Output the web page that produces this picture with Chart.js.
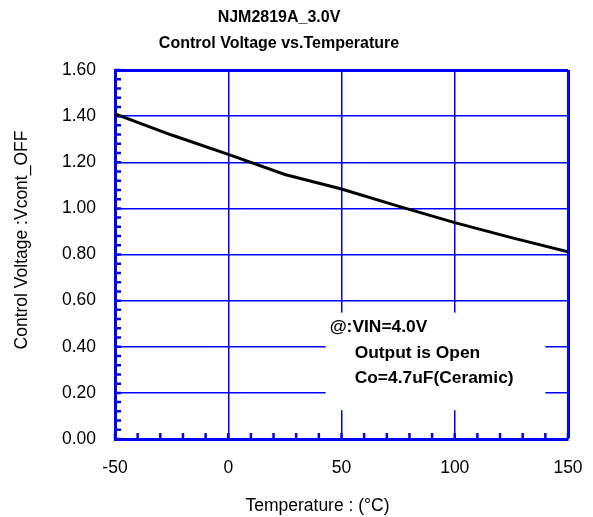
<!DOCTYPE html>
<html><head><meta charset="utf-8">
<script src="https://cdn.jsdelivr.net/npm/chart.js@4"></script>
<style>html,body{margin:0;padding:0;background:#fff}</style>
</head><body>
<canvas id="c" width="593" height="517"></canvas>
<script>
const temperatures = [-50, -25, 0, 25, 50, 75, 100, 125, 150];
const vcontOff = [1.41, 1.318, 1.234, 1.147, 1.084, 1.01, 0.938, 0.873, 0.812];
const xTicks = [-50, 0, 50, 100, 150];
const yTicks = [0, 0.2, 0.4, 0.6, 0.8, 1.0, 1.2, 1.4, 1.6];
const xMinorStep = 10;
const yMinorStep = 0.04;
const titleLines = ['NJM2819A_3.0V', 'Control Voltage vs.Temperature'];
const xTitle = 'Temperature : (°C)';
const yTitle = 'Control Voltage :Vcont_OFF';
const noteLines = ['@:VIN=4.0V', 'Output is Open', 'Co=4.7uF(Ceramic)'];
const noteBox = {x0: 43, x1: 140, y0: 0.125, y1: 0.548};

const BLUE = '#0000FF';
const FONT = '"Liberation Sans", Arial, sans-serif';

const extras = {
  id: 'extras',
  beforeDatasetsDraw(chart) {
    const {ctx, scales: {x, y}} = chart;
    ctx.save();
    const bx0 = x.getPixelForValue(noteBox.x0), bx1 = x.getPixelForValue(noteBox.x1);
    const by0 = y.getPixelForValue(noteBox.y1), by1 = y.getPixelForValue(noteBox.y0);
    ctx.fillStyle = '#fff';
    ctx.fillRect(bx0, by0, bx1 - bx0, by1 - by0);
    ctx.strokeStyle = BLUE;
    ctx.lineWidth = 2.5;
    ctx.beginPath();
    for (let i = 0; i <= Math.round((y.max - y.min) / yMinorStep); i++) {
      const py = y.getPixelForValue(y.min + i * yMinorStep);
      ctx.moveTo(x.left, py);
      ctx.lineTo(x.left + 6, py);
    }
    for (let i = 0; i <= Math.round((x.max - x.min) / xMinorStep); i++) {
      const px = x.getPixelForValue(x.min + i * xMinorStep);
      ctx.moveTo(px, y.bottom);
      ctx.lineTo(px, y.bottom - 6);
    }
    ctx.stroke();
    ctx.fillStyle = '#000';
    ctx.font = 'bold 17.4px ' + FONT;
    ctx.textBaseline = 'middle';
    ctx.textAlign = 'left';
    noteLines.forEach((t, i) => {
      ctx.fillText(t, bx0 + (i === 0 ? 4 : 29), by0 + 15 + i * 25.5);
    });
    ctx.restore();
  },
  afterDraw(chart) {
    const {ctx, scales: {x}} = chart;
    ctx.save();
    ctx.fillStyle = '#000';
    ctx.textAlign = 'center';
    ctx.textBaseline = 'middle';
    ctx.font = 'bold 16px ' + FONT;
    const cx = 279;
    titleLines.forEach((t, i) => ctx.fillText(t, cx, 17.5 + i * 26));
    ctx.font = '17.5px ' + FONT;
    ctx.fillText(xTitle, (x.left + x.right) / 2 - 24, 506);
    ctx.translate(22, 240);
    ctx.rotate(-Math.PI / 2);
    ctx.fillText(yTitle, 0, 0);
    ctx.restore();
  }
};

new Chart(document.getElementById('c'), {
  type: 'line',
  data: {
    datasets: [{
      data: temperatures.map((t, i) => ({x: t, y: vcontOff[i]})),
      borderColor: '#000',
      borderWidth: 3,
      pointRadius: 0,
      tension: 0,
      fill: false
    }]
  },
  options: {
    responsive: false,
    animation: false,
    devicePixelRatio: 1,
    layout: {padding: {top: 70, right: 25, bottom: 0, left: 0}},
    plugins: {legend: {display: false}, tooltip: {enabled: false}, title: {display: false}},
    scales: {
      x: {
        type: 'linear', min: -50, max: 150,
        afterBuildTicks: s => { s.ticks = xTicks.map(v => ({value: v})); },
        afterFit: s => { s.height = 78; s.paddingLeft = 0; s.paddingRight = 0; },
        ticks: {color: '#000', font: {family: FONT, size: 17.5}, padding: 19, callback: v => String(v), maxRotation: 0},
        grid: {color: BLUE, lineWidth: c => (c.tick && c.tick.value === 150 ? 3 : 1.5), drawTicks: false},
        border: {display: true, color: BLUE, width: 3}
      },
      y: {
        type: 'linear', min: 0, max: 1.6,
        afterBuildTicks: s => { s.ticks = yTicks.map(v => ({value: v})); },
        afterFit: s => { s.width = 115; s.paddingTop = 0; s.paddingBottom = 0; },
        ticks: {color: '#000', font: {family: FONT, size: 17.5}, padding: 19, callback: v => Number(v).toFixed(2)},
        grid: {color: BLUE, lineWidth: c => (c.tick && Math.abs(c.tick.value - 1.6) < 1e-9 ? 3 : 1.5), drawTicks: false},
        border: {display: true, color: BLUE, width: 3}
      }
    }
  },
  plugins: [extras]
});
</script>
</body></html>
